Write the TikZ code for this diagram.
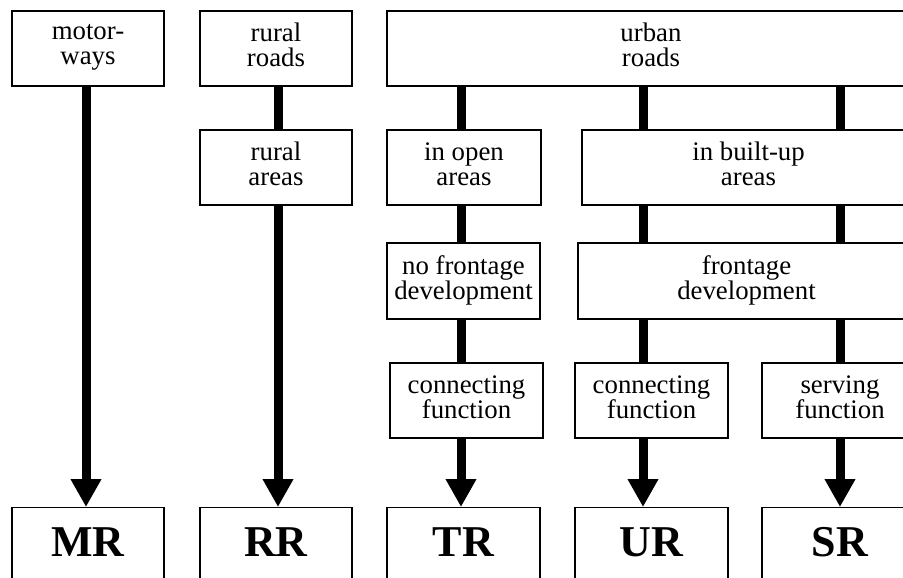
\documentclass[tikz,border=0pt]{standalone}
\usepackage{fontspec}
\setmainfont{Liberation Serif}
\usetikzlibrary{arrows.meta}
\begin{document}
\begin{tikzpicture}[x=1pt,y=-1pt,
  box/.style={draw=black, line width=1.2pt, inner sep=0pt, align=center,
    font=\fontsize{26.8}{25}\selectfont, minimum height=75pt,
    execute at begin node=\strut, execute at end node=\strut},
  botbox/.style={draw=black, line width=1.2pt, anchor=north, inner xsep=0pt, inner ysep=0pt,
    text height=49pt, text depth=30pt, font=\fontsize{44}{44}\selectfont\bfseries},
  shaft/.style={line width=9pt, black},
  arr/.style={shaft, -{Triangle[length=28pt,width=29pt]}}]
\useasboundingbox (0,0) rectangle (903,578);
\clip (0,0) rectangle (903,578);
% column axes
\coordinate (c1) at (86,0);
\coordinate (c2) at (278,0);
\coordinate (c3) at (461,0);
\coordinate (c4) at (643,0);
\coordinate (c5) at (840,0);
% row 1
\node[box, minimum width=152pt] (mw) at (88,48.5) {motor-\\ways};
\node[box, minimum width=152pt] (rr) at (276,48.5) {rural\\roads};
\node[box, minimum width=528pt] (ur) at (651,48.5) {urban\\roads};
% row 2
\node[box, minimum width=152pt] (ra) at (276,167.5) {rural\\areas};
\node[box, minimum width=154pt] (oa) at (464,167.5) {in open\\areas};
\node[box, minimum width=333pt] (bu) at (748.5,167.5) {in built-up\\areas};
% row 3
\node[box, minimum width=153pt, minimum height=76pt] (nf) at (463.5,281) {no frontage\\development};
\node[box, minimum width=337pt, minimum height=76pt] (fd) at (746.5,281) {frontage\\development};
% row 4
\node[box, minimum width=153pt] (cf1) at (466.5,400.5) {connecting\\function};
\node[box, minimum width=153pt] (cf2) at (651.5,400.5) {connecting\\function};
\node[box, minimum width=156pt] (sf) at (840,400.5) {serving\\function};
% bottom row
\node[botbox, minimum width=152pt] (MR) at (88,507) {MR};
\node[botbox, minimum width=152pt] (RR) at (276,507) {RR};
\node[botbox, minimum width=153pt] (TR) at (463.5,507) {TR};
\node[botbox, minimum width=153pt] (UR) at (651.5,507) {UR};
\node[botbox, minimum width=156pt] (SR) at (840,507) {SR};
% connectors
\draw[arr] (mw.south -| c1) -- (MR.north -| c1);
\draw[shaft] (rr.south -| c2) -- (ra.north -| c2);
\draw[arr] (ra.south -| c2) -- (RR.north -| c2);
\draw[shaft] (ur.south -| c3) -- (oa.north -| c3);
\draw[shaft] (ur.south -| c4) -- (bu.north -| c4);
\draw[shaft] (ur.south -| c5) -- (bu.north -| c5);
\draw[shaft] (oa.south -| c3) -- (nf.north -| c3);
\draw[shaft] (bu.south -| c4) -- (fd.north -| c4);
\draw[shaft] (bu.south -| c5) -- (fd.north -| c5);
\draw[shaft] (nf.south -| c3) -- (cf1.north -| c3);
\draw[shaft] (fd.south -| c4) -- (cf2.north -| c4);
\draw[shaft] (fd.south -| c5) -- (sf.north -| c5);
\draw[arr] (cf1.south -| c3) -- (TR.north -| c3);
\draw[arr] (cf2.south -| c4) -- (UR.north -| c4);
\draw[arr] (sf.south -| c5) -- (SR.north -| c5);
\end{tikzpicture}
\end{document}
